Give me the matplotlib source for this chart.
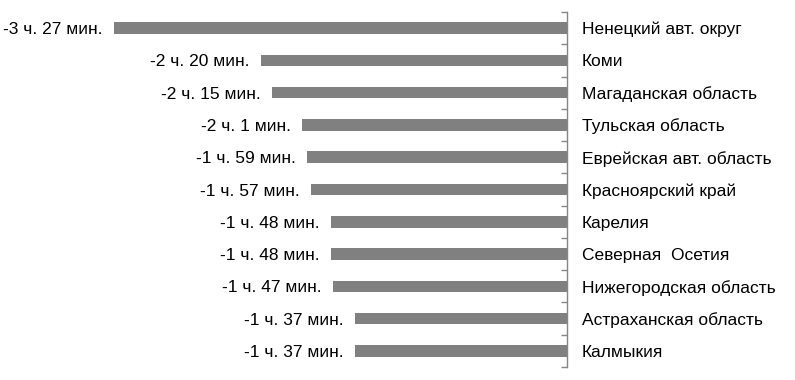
import matplotlib
matplotlib.use("Agg")
import matplotlib.pyplot as plt
import numpy as np

regions = ["Ненецкий авт. округ", "Коми", "Магаданская область", "Тульская область",
           "Еврейская авт. область", "Красноярский край", "Карелия", "Северная  Осетия",
           "Нижегородская область", "Астраханская область", "Калмыкия"]
minutes = [-207, -140, -135, -121, -119, -117, -108, -108, -107, -97, -97]
value_labels = ["-3 ч. 27 мин.", "-2 ч. 20 мин.", "-2 ч. 15 мин.", "-2 ч. 1 мин.",
                "-1 ч. 59 мин.", "-1 ч. 57 мин.", "-1 ч. 48 мин.", "-1 ч. 48 мин.",
                "-1 ч. 47 мин.", "-1 ч. 37 мин.", "-1 ч. 37 мин."]

plt.rcParams['font.family'] = ['Liberation Sans', 'DejaVu Sans']

W, H = 795, 380
fig = plt.figure(figsize=(W/100, H/100), dpi=100)
xmin = -220
px_per = (567-114)/207
left_px = 567 + xmin*px_per
ax = fig.add_axes([left_px/W, (H-367)/H, (567-left_px)/W, 355/H])

y = np.arange(len(regions))
ax.barh(y, minutes, height=0.36, color='#808080')
ax.set_xlim(xmin, 0)
ax.set_ylim(len(regions)-0.5, -0.5)

for s in ['top', 'bottom', 'left']:
    ax.spines[s].set_visible(False)
ax.spines['right'].set_color('#868686')
ax.spines['right'].set_linewidth(1.0)
ax.set_xticks([])
ax.yaxis.tick_right()
ax.set_yticks(y)
ax.set_yticklabels(regions, fontsize=12.5)
ax.tick_params(axis='y', which='major', length=0, pad=10.8)
ax.set_yticks(np.arange(-0.5, len(regions), 1.0), minor=True)
ax.tick_params(axis='y', which='minor', direction='in', length=4, color='#868686', width=1.0)

for yi, v, lab in zip(y, minutes, value_labels):
    ax.annotate(lab, (v, yi), xytext=(-8, 0), textcoords='offset points',
                ha='right', va='center_baseline', fontsize=12.5)

fig.savefig('out.png', dpi=100)
